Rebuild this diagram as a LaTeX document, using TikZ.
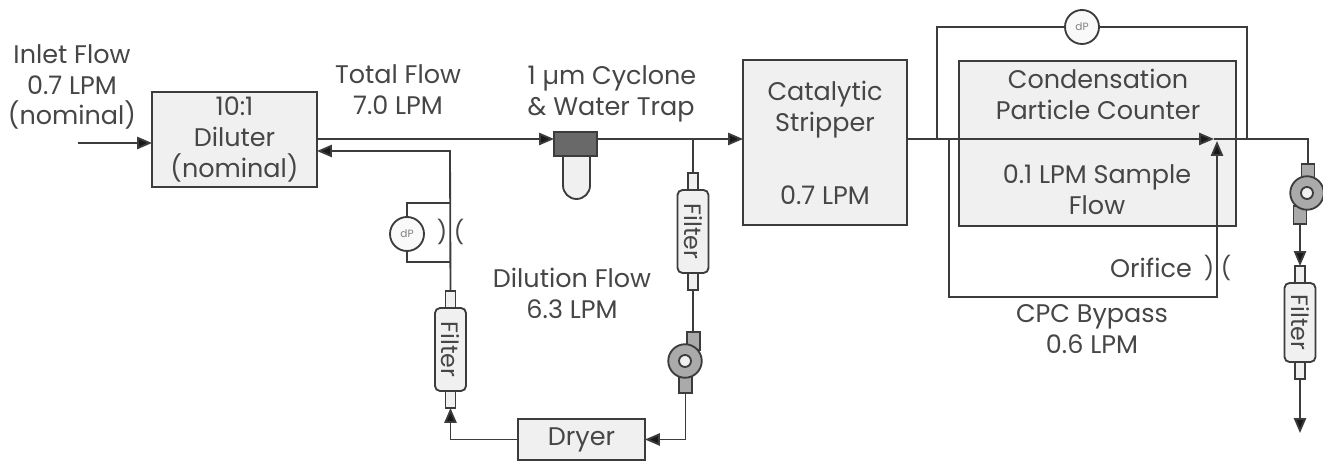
\documentclass[tikz,border=0pt]{standalone}
\usepackage{fontspec}
\setmainfont{Poppins}
\usepackage{xcolor}
\usepackage{tikz}
\usetikzlibrary{positioning,arrows.meta}
\definecolor{inkgray}{RGB}{60,60,60}
\definecolor{textgray}{RGB}{70,70,70}
\definecolor{boxgray}{RGB}{240,240,240}
\definecolor{pumpgray}{RGB}{170,170,170}
\definecolor{trapgray}{RGB}{105,105,105}

\begin{document}
\begin{tikzpicture}[
    x=0.02cm, y=-0.02cm,
    line width=1.05pt, color=inkgray,
    every node/.style={inner sep=0pt, outer sep=0pt, text=textgray, font=\fontsize{14.5}{17.6}\selectfont},
    box/.style={draw, fill=boxgray, minimum width=#1},
    lbl/.style={align=center},
    filterbody/.style={draw, fill=boxgray, rounded corners=0.1cm, minimum height=0.62cm, minimum width=1.66cm, rotate=-90, font=\fontsize{13.5}{14}\selectfont},
    stub/.style={draw, fill=boxgray, minimum width=0.2cm, minimum height=0.34cm},
    pumpbody/.style={draw, circle, fill=pumpgray, minimum size=0.67cm},
    pumpeye/.style={draw, circle, fill=boxgray, minimum size=0.24cm},
    pumpstub/.style={draw, fill=pumpgray, minimum width=0.26cm, minimum height=0.36cm},
    dp/.style={draw, circle, fill=boxgray!40, minimum size=0.68cm, text=gray, font=\fontsize{6}{7}\selectfont},
    orifice/.style={font=\fontsize{13}{14}\selectfont},
    arrow/.style={-{Triangle[length=8.5pt,width=7pt,fill=black!90]}}
  ]
    \useasboundingbox (0,0) rectangle (1323,465);

    % dilution side
    \node[lbl] (inlet) at (72,87) {Inlet Flow\\0.7 LPM\\(nominal)};
    \coordinate (instart) at (78,143);
    \node[box=3.3cm, minimum height=1.9cm, lbl] (dil) at (234.5,139.5) {10:1\\Diluter\\(nominal)};
    \node[lbl] (total) at (398,90) {Total Flow\\7.0 LPM};
    \node[align=left] (cyctext) at (612,94) {1 µm Cyclone\\\& Water Trap};
    \draw[fill=boxgray, rounded corners=0.27cm] (563,150) -- (563,199) -- (590,199) -- (590,150);
    \node[draw, fill=trapgray, minimum width=0.86cm, minimum height=0.48cm] (cyc) at (575.5,144) {};
    \node[box=3.28cm, minimum height=3.3cm] (strip) at (825,142.5) {};
    \node[lbl] (striptext) at (825,110) {Catalytic\\Stripper};
    \node (stripflow) at (825,195) {0.7 LPM};

    \coordinate (tee) at (693,139);
    \node[filterbody] (filtA) at (693,231.5) {Filter};
    \node[stub, above=0pt of filtA.west] (filtAtop) {};
    \node[stub, below=0pt of filtA.east] (filtAbot) {};
    \node[pumpstub] (pumpAtop) at (693.5,341) {};
    \node[pumpstub] (pumpAbot) at (685.5,384) {};
    \node[pumpbody] (pumpA) at (685,361) {};
    \node[pumpeye] (pumpAeye) at (685,361) {};
    \node[box=2.54cm, minimum height=0.82cm] (dryer) at (581.5,439.5) {Dryer};
    \node[filterbody] (filtB) at (450.5,349.5) {Filter};
    \node[stub, above=0pt of filtB.west] (filtBtop) {};
    \node[stub, below=0pt of filtB.east] (filtBbot) {};
    \node[dp] (dpA) at (407,234) {dP};
    \node[orifice] (oriA) at (442,232) {)};
    \node[orifice] (oriAb) at (459,232) {(};
    \node[lbl] (dilflow) at (572,293) {Dilution Flow\\6.3 LPM};
    \coordinate (dpAtop) at (450,203);
    \coordinate (dpAbot) at (450,262);
    \coordinate (dilback) at (450,151);

    % counter side
    \node[box=5.54cm, minimum height=3.3cm] (cpc) at (1097.5,143.5) {};
    \node[lbl] (cpctext) at (1098,94) {Condensation\\Particle Counter};
    \node[lbl] (cpcflow) at (1097,190) {0.1 LPM Sample\\Flow};
    \node (oritext) at (1151,268) {Orifice};
    \node[orifice] (oriB) at (1209,268) {)};
    \node[orifice] (oriBb) at (1226,268) {(};
    \node[lbl] (bypass) at (1092,329) {CPC Bypass\\0.6 LPM};
    \node[dp] (dpB) at (1082,27) {dP};
    \coordinate (bypstart) at (949,139);
    \coordinate (dpBleft) at (937,139);
    \coordinate (dpBright) at (1247,139);
    \coordinate (byplow) at (949,297);
    \coordinate (merge) at (1214,139);
    \coordinate (mergeup) at (1217,141);
    \node[pumpstub] (pumpBtop) at (1308,173) {};
    \node[pumpstub] (pumpBbot) at (1300,215) {};
    \node[pumpbody] (pumpB) at (1307,193) {};
    \node[pumpeye] (pumpBeye) at (1307,193) {};
    \node[filterbody, minimum width=1.58cm] (filtC) at (1300,322.5) {Filter};
    \node[stub, above=0pt of filtC.west] (filtCtop) {};
    \node[stub, below=0pt of filtC.east] (filtCbot) {};
    \coordinate (outend) at (1300,433);

    % flow lines
    \draw[arrow] (instart) -- (instart -| dil.west);
    \draw[arrow] (dil.east |- tee) -- (tee -| cyc.west);
    \draw (tee -| cyc.east) -- (tee);
    \draw[arrow] (tee) -- (tee -| strip.west);
    \draw (tee) -- (filtAtop.north);
    \draw (filtAbot.south) -- (filtAbot.south |- pumpAtop.north);
    \draw[arrow] (pumpAbot.south) |- (dryer.east);
    \draw[arrow] (dryer.west) -| (filtBbot.south);
    \draw[arrow] (filtBtop.north) -- (dilback) -- (dilback -| dil.east);
    \draw (dpAtop) -| (dpA.north);
    \draw (dpA.south) |- (dpAbot);
    \draw[arrow] (tee -| strip.east) -- (merge);
    \draw (merge) -| (pumpBtop.north);
    \draw (dpBleft) |- (dpB.west);
    \draw (dpB.east) -| (dpBright);
    \draw[arrow] (bypstart) -- (byplow) -| (mergeup);
    \draw[arrow] (pumpBbot.south) -- (filtCtop.north);
    \draw[arrow] (filtCbot.south) -- (outend);
  \end{tikzpicture}
\end{document}
